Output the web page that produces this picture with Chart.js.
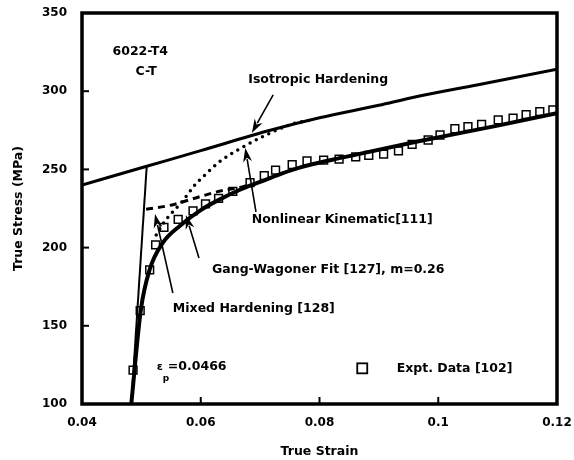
<!DOCTYPE html>
<html>
<head>
<meta charset="utf-8">
<script src="https://cdn.jsdelivr.net/npm/chart.js@4.4.1/dist/chart.umd.min.js"></script>
<style>
    html, body { margin: 0; padding: 0; background: #fff; }
</style>
</head>
<body>
<canvas id="stressChart" width="574" height="460"></canvas>
<script>
// tick labels
const strainTicks = ['0.04', '0.06', '0.08', '0.1', '0.12'];
const stressTicks = ['100', '150', '200', '250', '300', '350'];

// curves, [true strain, true stress (MPa)]
const isotropic = [[0.04, 240], [0.0509, 252], [0.06, 262], [0.0717, 275], [0.08, 283], [0.09, 291], [0.0957, 296], [0.1065, 304], [0.12, 314]];
const elastic = [[0.0483, 100], [0.0509, 252]];
const gangWagoner = [[0.0483, 100], [0.0499, 160], [0.0514, 186], [0.0536, 203], [0.0565, 214], [0.06, 224], [0.0633, 231], [0.0666, 237], [0.07, 242], [0.0734, 247], [0.0765, 251], [0.0844, 258], [0.0967, 268], [0.11, 278], [0.12, 286]];
const nonlinearKin = [[0.0508, 224.5], [0.0548, 227], [0.0598, 232.5], [0.0631, 236], [0.0666, 238.5], [0.068, 240]];
const mixedHard = [[0.0525, 208], [0.0538, 216], [0.0551, 222], [0.057, 230], [0.059, 240], [0.061, 247.5], [0.0632, 255], [0.0665, 263], [0.071, 272], [0.0754, 279], [0.079, 282]];
const exptData = [[0.0486, 121.7], [0.0498, 159.7], [0.0514, 185.7], [0.0524, 201.7], [0.0538, 213], [0.0562, 218], [0.0587, 223.5], [0.0608, 228], [0.063, 231.5], [0.0654, 236], [0.0683, 241.5], [0.0707, 246], [0.0726, 249.5], [0.0754, 253], [0.0779, 255.5], [0.0807, 256], [0.0833, 256.6], [0.0861, 258], [0.0883, 259], [0.0908, 259.7], [0.0933, 261.8], [0.0956, 266], [0.0983, 268.8], [0.1003, 272], [0.1028, 276], [0.105, 277.3], [0.1073, 278.8], [0.1101, 281.6], [0.1126, 282.7], [0.1148, 285], [0.1171, 287], [0.1193, 288]];

const toXY = arr => arr.map(p => ({ x: p[0], y: p[1] }));
const FONT = 'DejaVu Sans';

// text notes and arrows, placed in data units
const notes = [
    { text: '6022-T4', x: 0.0498, y: 325, align: 'center' },
    { text: 'C-T', x: 0.0508, y: 312.3, align: 'center' },
    { text: 'Isotropic Hardening', x: 0.068, y: 307.2, align: 'left' },
    { text: 'Nonlinear Kinematic[111]', x: 0.0686, y: 217.6, align: 'left' },
    { text: 'Gang-Wagoner Fit [127], m=0.26', x: 0.0619, y: 185.7, align: 'left' },
    { text: 'Mixed Hardening [128]', x: 0.0553, y: 160.7, align: 'left' },
    { text: 'Expt. Data [102]', x: 0.093, y: 122.8, align: 'left' }
];
const arrows = [
    { from: [0.0722, 297.6], to: [0.0686, 273.3] },
    { from: [0.0693, 222.8], to: [0.0675, 263.7] },
    { from: [0.0597, 193.4], to: [0.0575, 220.8] },
    { from: [0.0553, 171], to: [0.0523, 221.5] }
];

const figurePlugin = {
    id: 'figureExtras',
    afterDatasetsDraw(chart) {
        const ctx = chart.ctx;
        const xs = chart.scales.x;
        const ys = chart.scales.y;
        const a = chart.chartArea;
        ctx.save();
        ctx.strokeStyle = '#000';
        ctx.fillStyle = '#000';

        // frame
        ctx.lineWidth = 3.5;
        ctx.strokeRect(a.left, a.top, a.right - a.left, a.bottom - a.top);

        // inward ticks
        ctx.lineWidth = 2;
        stressTicks.forEach(t => {
            const py = ys.getPixelForValue(parseFloat(t));
            ctx.beginPath();
            ctx.moveTo(a.left, py);
            ctx.lineTo(a.left + 7, py);
            ctx.stroke();
        });
        strainTicks.forEach(t => {
            const px = xs.getPixelForValue(parseFloat(t));
            ctx.beginPath();
            ctx.moveTo(px, a.bottom);
            ctx.lineTo(px, a.bottom - 7);
            ctx.stroke();
        });

        // arrows
        arrows.forEach(ar => {
            const x1 = xs.getPixelForValue(ar.from[0]), y1 = ys.getPixelForValue(ar.from[1]);
            const x2 = xs.getPixelForValue(ar.to[0]), y2 = ys.getPixelForValue(ar.to[1]);
            const ang = Math.atan2(y2 - y1, x2 - x1);
            const len = 14, half = 4.5;
            ctx.lineWidth = 1.6;
            ctx.beginPath();
            ctx.moveTo(x1, y1);
            ctx.lineTo(x2 - Math.cos(ang) * len * 0.8, y2 - Math.sin(ang) * len * 0.8);
            ctx.stroke();
            ctx.beginPath();
            ctx.moveTo(x2, y2);
            ctx.lineTo(x2 - Math.cos(ang) * len - Math.sin(ang) * half, y2 - Math.sin(ang) * len + Math.cos(ang) * half);
            ctx.lineTo(x2 - Math.cos(ang) * len * 0.7, y2 - Math.sin(ang) * len * 0.7);
            ctx.lineTo(x2 - Math.cos(ang) * len + Math.sin(ang) * half, y2 - Math.sin(ang) * len - Math.cos(ang) * half);
            ctx.closePath();
            ctx.fill();
        });

        // notes
        ctx.font = 'bold 12.5px "' + FONT + '"';
        ctx.textBaseline = 'middle';
        notes.forEach(n => {
            ctx.textAlign = n.align;
            ctx.fillText(n.text, xs.getPixelForValue(n.x), ys.getPixelForValue(n.y));
        });

        // epsilon_p label
        const ex = xs.getPixelForValue(0.0526), ey = ys.getPixelForValue(124);
        ctx.textAlign = 'left';
        ctx.font = 'bold 11px "' + FONT + '"';
        ctx.fillText('\u03b5', ex, ey + 1);
        ctx.font = 'bold 9px "' + FONT + '"';
        ctx.fillText('p', ex + 6, ey + 12);
        ctx.font = 'bold 12.5px "' + FONT + '"';
        ctx.fillText('=0.0466', ex + 11, ey);

        // legend marker for the experimental data
        const lx = xs.getPixelForValue(0.0872), ly = ys.getPixelForValue(122.8);
        ctx.fillStyle = '#fff';
        ctx.lineWidth = 1.8;
        ctx.fillRect(lx - 5, ly - 5, 10, 10);
        ctx.strokeRect(lx - 5, ly - 5, 10, 10);
        ctx.restore();
    }
};

const ctx = document.getElementById('stressChart').getContext('2d');
const stressChart = new Chart(ctx, {
    type: 'scatter',
    data: {
        datasets: [
            {
                label: 'Isotropic Hardening',
                data: toXY(isotropic),
                showLine: true,
                borderColor: '#000',
                borderWidth: 3,
                pointRadius: 0,
                cubicInterpolationMode: 'monotone'
            },
            {
                label: 'Elastic',
                data: toXY(elastic),
                showLine: true,
                borderColor: '#000',
                borderWidth: 2,
                pointRadius: 0
            },
            {
                label: 'Gang-Wagoner Fit',
                data: toXY(gangWagoner),
                showLine: true,
                borderColor: '#000',
                borderWidth: 4,
                pointRadius: 0,
                cubicInterpolationMode: 'monotone'
            },
            {
                label: 'Nonlinear Kinematic',
                data: toXY(nonlinearKin),
                showLine: true,
                borderColor: '#000',
                borderWidth: 3,
                borderDash: [7, 5],
                pointRadius: 0,
                cubicInterpolationMode: 'monotone'
            },
            {
                label: 'Mixed Hardening',
                data: toXY(mixedHard),
                showLine: true,
                borderColor: '#000',
                borderWidth: 3.5,
                borderDash: [0, 7],
                borderCapStyle: 'round',
                pointRadius: 0,
                cubicInterpolationMode: 'monotone'
            },
            {
                label: 'Expt. Data [102]',
                data: toXY(exptData),
                showLine: false,
                pointStyle: 'rect',
                pointRadius: 5.5,
                pointBorderWidth: 1.5,
                pointBorderColor: '#000',
                pointBackgroundColor: '#fff'
            }
        ]
    },
    options: {
        responsive: false,
        animation: false,
        layout: { padding: { top: 13, right: 17, left: 0, bottom: 0 } },
        scales: {
            x: {
                type: 'linear',
                min: 0.04,
                max: 0.12,
                afterFit: s => { s.height = 56; s.paddingLeft = 0; s.paddingRight = 0; },
                grid: { display: false, drawTicks: false },
                border: { display: false },
                ticks: {
                    stepSize: 0.02,
                    padding: 12,
                    color: '#000',
                    font: { family: FONT, size: 12, weight: 'bold' },
                    callback: v => strainTicks.find(t => Math.abs(parseFloat(t) - v) < 1e-6) || ''
                },
                title: {
                    display: true,
                    text: 'True Strain',
                    color: '#000',
                    padding: { top: 0, bottom: 1 },
                    font: { family: FONT, size: 12.5, weight: 'bold' }
                }
            },
            y: {
                type: 'linear',
                min: 100,
                max: 350,
                afterFit: s => { s.width = 82; s.paddingTop = 0; s.paddingBottom = 0; },
                grid: { display: false, drawTicks: false },
                border: { display: false },
                ticks: {
                    stepSize: 50,
                    padding: 15,
                    color: '#000',
                    font: { family: FONT, size: 12, weight: 'bold' },
                    callback: v => stressTicks.find(t => Math.abs(parseFloat(t) - v) < 1e-6) || ''
                },
                title: {
                    display: true,
                    text: 'True Stress (MPa)',
                    color: '#000',
                    padding: { top: 11, bottom: 0 },
                    font: { family: FONT, size: 12.5, weight: 'bold' }
                }
            }
        },
        plugins: {
            legend: { display: false },
            tooltip: { enabled: false }
        }
    },
    plugins: [figurePlugin]
});
</script>
</body>
</html>
